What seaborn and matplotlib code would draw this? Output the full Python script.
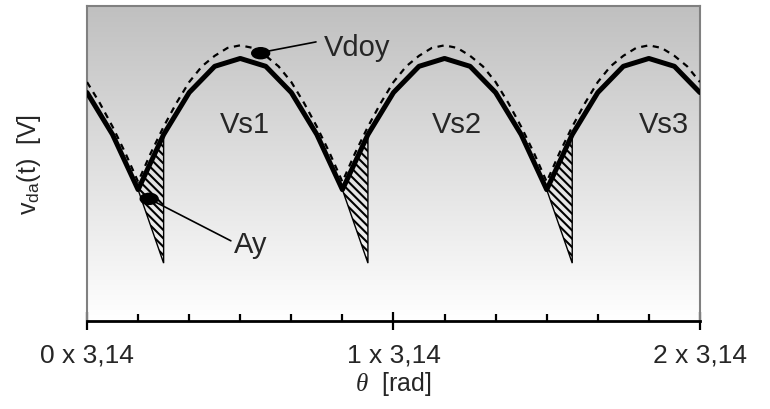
import numpy as np
import pandas as pd
from matplotlib import pyplot as plt
from matplotlib.colors import LinearSegmentedColormap
from matplotlib.patches import Ellipse
import seaborn as sns

### data ###
# angle grid in degrees (0 .. 2 x 3,14 rad)
theta_out = list(range(0, 361, 15))
# rectified output voltage (thick line), relative to the phase peak
v_out = [0.87, 0.71, 0.50, 0.71, 0.87, 0.97, 1.00, 0.97, 0.87, 0.71, 0.50, 0.71, 0.87,
         0.97, 1.00, 0.97, 0.87, 0.71, 0.50, 0.71, 0.87, 0.97, 1.00, 0.97, 0.87]

theta_ideal = [i * 7.5 for i in range(49)]
# ideal envelope (dashed line)
v_ideal = [0.91, 0.83, 0.74, 0.64, 0.53, 0.64, 0.74, 0.83, 0.91, 0.97, 1.01, 1.04, 1.05,
           1.04, 1.01, 0.97, 0.91, 0.83, 0.74, 0.64, 0.53, 0.64, 0.74, 0.83, 0.91,
           0.97, 1.01, 1.04, 1.05, 1.04, 1.01, 0.97, 0.91, 0.83, 0.74, 0.64, 0.53,
           0.64, 0.74, 0.83, 0.91, 0.97, 1.01, 1.04, 1.05, 1.04, 1.01, 0.97, 0.91]

# overlap areas Ay
ay_start = [30, 150, 270]
ay_end = [45, 165, 285]
ay_cusp = [0.50, 0.50, 0.50]
ay_top = [0.71, 0.71, 0.71]
ay_bottom = [0.22, 0.22, 0.22]

phase_names = ['Vs1', 'Vs2', 'Vs3']
phase_label_x = [93, 217, 339]

tick_pos = [0, 180, 360]
tick_labels = ['0 x 3,14', '1 x 3,14', '2 x 3,14']

### style ###
sns.set_theme(style='white')
plt.rcParams['font.family'] = ['Liberation Sans', 'DejaVu Sans']
plt.rcParams['mathtext.fontset'] = 'custom'
plt.rcParams['mathtext.rm'] = 'Liberation Sans'
plt.rcParams['mathtext.it'] = 'Liberation Serif:italic'
plt.rcParams['hatch.linewidth'] = 1.5

fig = plt.figure(figsize=(7.7, 4.1), dpi=100)
ax = fig.add_axes([0.113, 0.215, 0.796, 0.768])

# gray to white background
bg = LinearSegmentedColormap.from_list('bg', ['#ffffff', '#c0c0c0'])
ax.imshow(np.linspace(0, 1, 256).reshape(-1, 1), extent=[0, 360, 0, 1.2], origin='lower',
          aspect='auto', cmap=bg, zorder=0)

df_out = pd.DataFrame({'theta': theta_out, 'v': v_out})
df_ideal = pd.DataFrame({'theta': theta_ideal, 'v': v_ideal})

for s, e, c, t, b in zip(ay_start, ay_end, ay_cusp, ay_top, ay_bottom):
    ax.fill([s, e, e], [c, t, b], facecolor='none', edgecolor='black',
            hatch='\\' * 4, linewidth=1.0, zorder=2)

sns.lineplot(data=df_ideal, x='theta', y='v', ax=ax, color='black', linewidth=1.6,
             linestyle=(0, (2.8, 2.5)), zorder=3)
sns.lineplot(data=df_out, x='theta', y='v', ax=ax, color='black', linewidth=3.6, zorder=4)

for name, xp in zip(phase_names, phase_label_x):
    ax.text(xp, 0.75, name, fontsize=21, ha='center', va='center', zorder=5)

# Vdoy marker
ax.add_patch(Ellipse((102, 1.02), 10.5, 0.042, color='black', zorder=6))
ax.plot([104, 134.5], [1.025, 1.063], color='black', linewidth=1.2, zorder=6)
ax.text(139, 1.045, 'Vdoy', fontsize=21, ha='left', va='center', zorder=6)

# Ay marker
ax.add_patch(Ellipse((36.5, 0.465), 10.5, 0.042, color='black', zorder=6))
ax.plot([38, 84.5], [0.46, 0.305], color='black', linewidth=1.2, zorder=6)
ax.text(86.5, 0.293, 'Ay', fontsize=21, ha='left', va='center', zorder=6)

ax.set_xlim(0, 360)
ax.set_ylim(0, 1.2)
ax.set_xticks(tick_pos)
ax.set_xticklabels(tick_labels)
ax.set_xticks(list(range(30, 360, 30)), minor=True)
ax.set_yticks([])
ax.tick_params(axis='x', which='major', direction='inout', length=13, width=1.6,
               color='black', pad=9, labelsize=19, bottom=True)
ax.tick_params(axis='x', which='minor', direction='in', length=5, width=1.6,
               color='black', bottom=True)

for side in ['top', 'left', 'right']:
    ax.spines[side].set_color('#808080')
    ax.spines[side].set_linewidth(1.5)
ax.spines['bottom'].set_color('black')
ax.spines['bottom'].set_linewidth(2.0)

ax.set_xlabel(r'$\theta$  [rad]', fontsize=18, labelpad=2)
ax.set_ylabel(r'v$_{\mathregular{da}}$(t)  [V]', fontsize=18, labelpad=32)

fig.savefig('out.png', dpi=100)
